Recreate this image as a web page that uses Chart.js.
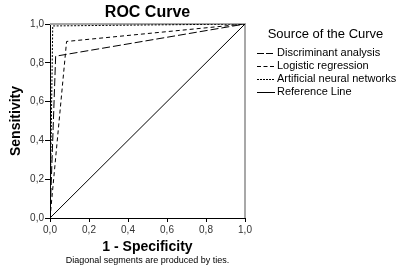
<!DOCTYPE html>
<html>
<head>
<meta charset="utf-8">
<script src="https://cdn.jsdelivr.net/npm/chart.js@4.4.1/dist/chart.umd.min.js"></script>
<style>
  html, body { margin: 0; padding: 0; background: #fff; }
  #wrap { width: 400px; height: 271px; }
</style>
</head>
<body>
<div id="wrap"><canvas id="roc" width="400" height="271"></canvas></div>
<script>
// curve data (1 - specificity, sensitivity)
var curveNames = ["Discriminant analysis", "Logistic regression", "Artificial neural networks", "Reference Line"];
var fprDiscr = [0, 0.029, 1];
var tprDiscr = [0, 0.834, 1];
var fprLogit = [0, 0.085, 1];
var tprLogit = [0, 0.910, 1];
var fprAnn = [0, 0.014, 1];
var tprAnn = [0, 0.990, 1];
var fprRef = [0, 1];
var tprRef = [0, 1];
var tickValues = [0, 0.2, 0.4, 0.6, 0.8, 1.0];

var dashes = [[8, 3], [4, 3], [2, 1.5], []];
var legendDashes = [[7, 2], [4, 2.5], [2, 1], []];
var FONT = "Arial, 'Liberation Sans', sans-serif";

function pts(xs, ys) {
  return xs.map(function (x, i) { return { x: x, y: ys[i] }; });
}

function fmt(v) {
  return v.toFixed(1).replace(".", ",");
}

var frame = {
  id: "frame",
  beforeDatasetsDraw: function (chart) {
    var a = chart.chartArea, ctx = chart.ctx;
    ctx.save();
    ctx.strokeStyle = "#a8a8a8";
    ctx.lineWidth = 2;
    ctx.beginPath();
    ctx.moveTo(a.left, a.top);
    ctx.lineTo(a.right, a.top);
    ctx.lineTo(a.right, a.bottom);
    ctx.stroke();
    ctx.restore();
  }
};

// legend drawn by hand so it sits where the original one does
var sideLegend = {
  id: "sideLegend",
  afterDraw: function (chart) {
    var ctx = chart.ctx;
    ctx.save();
    ctx.fillStyle = "#000";
    ctx.textBaseline = "middle";
    ctx.textAlign = "center";
    ctx.font = "13px " + FONT;
    ctx.fillText("Source of the Curve", 325.5, 34);
    ctx.textAlign = "left";
    ctx.font = "11px " + FONT;
    chart.data.datasets.forEach(function (ds, i) {
      var y = 53 + i * 13;
      ctx.strokeStyle = "#000";
      ctx.lineWidth = 1;
      ctx.setLineDash(legendDashes[i]);
      ctx.beginPath();
      ctx.moveTo(257, y + 0.5);
      ctx.lineTo(275, y + 0.5);
      ctx.stroke();
      ctx.setLineDash([]);
      ctx.fillText(ds.label, 277, y);
    });
    ctx.restore();
  }
};

var sets = [[fprDiscr, tprDiscr], [fprLogit, tprLogit], [fprAnn, tprAnn], [fprRef, tprRef]];

new Chart("roc", {
  type: "scatter",
  data: {
    datasets: sets.map(function (s, i) {
      return {
        label: curveNames[i],
        data: pts(s[0], s[1]),
        showLine: true,
        borderColor: "#000",
        borderWidth: 1,
        borderDash: dashes[i],
        pointRadius: 0,
        fill: false
      };
    })
  },
  options: {
    responsive: false,
    animation: false,
    layout: { padding: { left: 0, right: 155, top: 0, bottom: 0 } },
    plugins: {
      legend: { display: false },
      tooltip: { enabled: false },
      title: {
        display: true,
        text: "ROC Curve",
        fullSize: false,
        color: "#000",
        font: { family: FONT, size: 16, weight: "bold" },
        padding: { top: 3, bottom: 1.8 }
      },
      subtitle: {
        display: true,
        position: "bottom",
        text: "Diagonal segments are produced by ties.",
        fullSize: false,
        color: "#000",
        font: { family: FONT, size: 9 },
        padding: { top: 0, bottom: 5 }
      }
    },
    scales: {
      x: {
        type: "linear",
        min: 0,
        max: 1,
        afterBuildTicks: function (s) { s.ticks = tickValues.map(function (v) { return { value: v }; }); },
        afterFit: function (s) { s.height = 37.2; },
        ticks: {
          color: "#333",
          font: { family: FONT, size: 10 },
          padding: 2,
          maxRotation: 0,
          callback: function (v) { return fmt(v); }
        },
        grid: { drawOnChartArea: false, drawTicks: true, tickLength: 4, color: "#000" },
        border: { display: true, color: "#000", width: 1 },
        title: {
          display: true,
          text: "1 - Specificity",
          color: "#000",
          font: { family: FONT, size: 14, weight: "bold" },
          padding: { top: 0, bottom: 0 }
        }
      },
      y: {
        type: "linear",
        min: 0,
        max: 1,
        afterBuildTicks: function (s) { s.ticks = tickValues.map(function (v) { return { value: v }; }); },
        afterFit: function (s) { s.width = 50; },
        ticks: {
          color: "#333",
          font: { family: FONT, size: 10 },
          padding: 1,
          callback: function (v) { return fmt(v); }
        },
        grid: { drawOnChartArea: false, drawTicks: true, tickLength: 5, color: "#000" },
        border: { display: true, color: "#000", width: 1 },
        title: {
          display: true,
          text: "Sensitivity",
          color: "#000",
          font: { family: FONT, size: 14, weight: "bold" },
          padding: { top: 8, bottom: 0 }
        }
      }
    }
  },
  plugins: [frame, sideLegend]
});
</script>
</body>
</html>
